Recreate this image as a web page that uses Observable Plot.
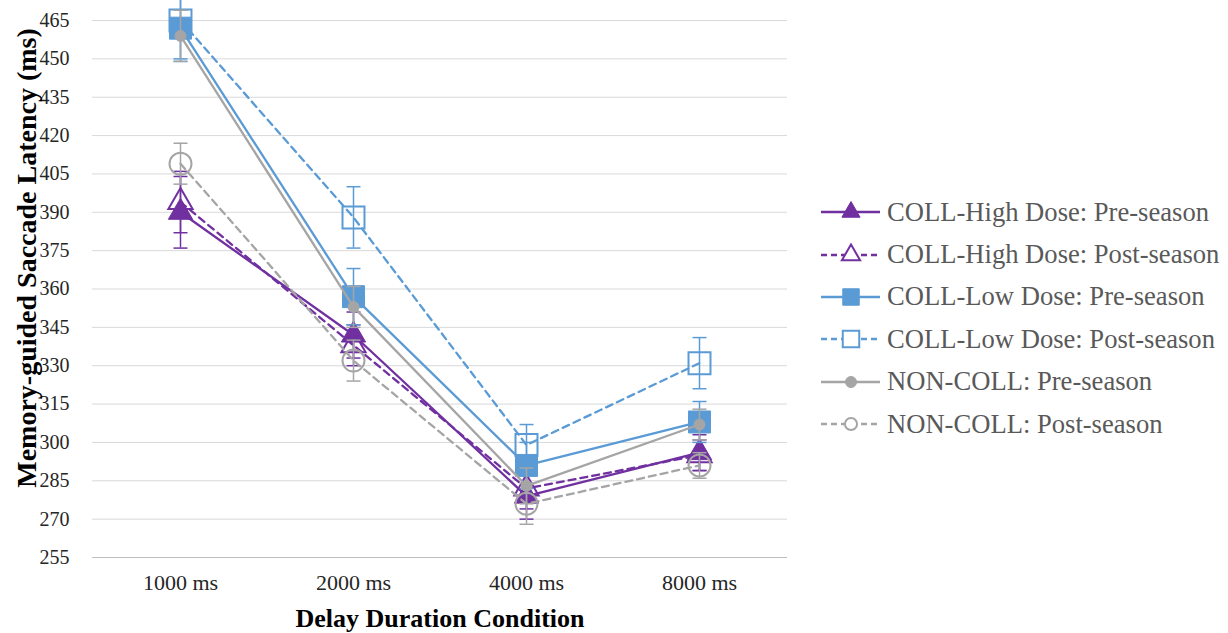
<!DOCTYPE html>
<html><head><meta charset="utf-8">
<script src="https://cdn.jsdelivr.net/npm/d3@7"></script>
<script src="https://cdn.jsdelivr.net/npm/@observablehq/plot@0.6"></script>
<style>
body{margin:0;background:#fff;}
#wrap{position:relative;width:1228px;height:633px;font-family:"Liberation Serif","Times New Roman",serif;overflow:hidden}
#chart{position:absolute;left:0;top:0}
#legend{position:absolute;left:820px;top:191px;}
.row{display:flex;align-items:center;height:42.4px;font-size:26.6px;color:#595959;white-space:nowrap}
.row svg{margin-right:5px;flex:none}
</style></head><body><div id="wrap"><div id="chart"></div><div id="legend"></div></div>
<script>
const conditions = ["1000 ms", "2000 ms", "4000 ms", "8000 ms"];
const yTicks = [255, 270, 285, 300, 315, 330, 345, 360, 375, 390, 405, 420, 435, 450, 465];
const seriesNames = [
  "COLL-High Dose: Pre-season",
  "COLL-High Dose: Post-season",
  "COLL-Low Dose: Pre-season",
  "COLL-Low Dose: Post-season",
  "NON-COLL: Pre-season",
  "NON-COLL: Post-season"
];
const highPre = [390, 342, 279, 296];
const highPreErr = [14, 9, 9, 7];
const highPost = [394, 338, 282, 295];
const highPostErr = [12, 8, 8, 6];
const lowPre = [462, 357, 291, 308];
const lowPreErr = [13, 11, 9, 8];
const lowPost = [465, 388, 299, 331];
const lowPostErr = [15, 12, 8, 10];
const nonPre = [459, 353, 283, 307];
const nonPreErr = [10, 8, 7, 6];
const nonPost = [409, 332, 276, 291];
const nonPostErr = [8, 8, 8, 5];

const purple = "#7030A0", blue = "#5B9BD5", gray = "#A5A5A5";
const styles = [
  {color: purple, symbol: "triangle", filled: true, dashed: false, r: 9},
  {color: purple, symbol: "triangle", filled: false, dashed: true, r: 9},
  {color: blue, symbol: "square", filled: true, dashed: false, r: 12.4},
  {color: blue, symbol: "square", filled: false, dashed: true, r: 12.4},
  {color: gray, symbol: "circle", filled: true, dashed: false, r: 5.5},
  {color: gray, symbol: "circle", filled: false, dashed: true, r: 11}
];
const values = [highPre, highPost, lowPre, lowPost, nonPre, nonPost];
const errs = [highPreErr, highPostErr, lowPreErr, lowPostErr, nonPreErr, nonPostErr];

const cap = {draw(ctx, size) { const w = Math.sqrt(size) / 2; ctx.moveTo(-w, 0); ctx.lineTo(w, 0); }};
const DASH = "7,5";

const marks = [
  Plot.gridY(yTicks, {stroke: "#d9d9d9", strokeOpacity: 1, strokeWidth: 1}),
  Plot.ruleY([255], {stroke: "#bfbfbf", strokeWidth: 1.2}),
  Plot.axisY(yTicks, {tickSize: 0, tickPadding: 23, fontSize: 20, tickFormat: d => d, label: null}),
  Plot.axisX({tickSize: 0, tickPadding: 17, fontSize: 22, label: null}),
  Plot.text(["Delay Duration Condition"], {frameAnchor: "bottom", dy: 69, fontSize: 26, fontWeight: "bold", fill: "black"}),
  Plot.text(["Memory-guided Saccade Latency (ms)"], {frameAnchor: "left", dx: -65, dy: -31, rotate: -90, textAnchor: "middle", fontSize: 28, fontWeight: "bold", fill: "black"})
];

seriesNames.forEach((name, k) => {
  const st = styles[k];
  const data = values[k].map((v, i) => ({cond: conditions[i], v, lo: v - errs[k][i], hi: v + errs[k][i]}));
  marks.push(
    Plot.line(data, {x: "cond", y: "v", stroke: st.color, strokeWidth: 2.3, strokeDasharray: st.dashed ? DASH : null}),
    Plot.ruleX(data, {x: "cond", y1: "lo", y2: "hi", stroke: st.color, strokeWidth: 1.5}),
    Plot.dot(data, {x: "cond", y: "lo", symbol: cap, r: 7.9, stroke: st.color, strokeWidth: 1.5}),
    Plot.dot(data, {x: "cond", y: "hi", symbol: cap, r: 7.9, stroke: st.color, strokeWidth: 1.5}),
    Plot.dot(data, {x: "cond", y: "v", symbol: st.symbol, r: st.r,
      fill: st.filled ? st.color : "none", stroke: st.color, strokeWidth: st.filled ? 1 : 2})
  );
});

const chart = Plot.plot({
  width: 800, height: 633,
  marginLeft: 92, marginRight: 13, marginTop: 20, marginBottom: 76,
  style: {fontFamily: "'Liberation Serif', 'Times New Roman', serif", color: "#262626", background: "white", overflow: "visible"},
  x: {type: "point", domain: conditions, padding: 0.5},
  y: {domain: [255, 465]},
  marks
});
document.getElementById("chart").appendChild(chart);

// legend
const legend = d3.select("#legend");
seriesNames.forEach((name, k) => {
  const st = styles[k];
  const row = legend.append("div").attr("class", "row");
  const svg = row.append("svg").attr("width", 62).attr("height", 26);
  svg.append("line").attr("x1", 1).attr("x2", 60).attr("y1", 13).attr("y2", 13)
    .attr("stroke", st.color).attr("stroke-width", 2.3)
    .attr("stroke-dasharray", st.dashed ? "6,4" : null);
  const symType = {triangle: d3.symbolTriangle, square: d3.symbolSquare, circle: d3.symbolCircle}[st.symbol];
  const scale = st.symbol === "circle" && !st.filled ? 0.55 : 0.75;
  const rr = (st.symbol === "circle" && st.filled) ? st.r : st.r * scale;
  svg.append("path").attr("transform", "translate(31,13)")
    .attr("d", d3.symbol(symType, Math.PI * rr * rr)())
    .attr("fill", st.filled ? st.color : "white").attr("stroke", st.color).attr("stroke-width", st.filled ? 1 : 2);
  row.append("span").text(name);
});
</script>
</body></html>
